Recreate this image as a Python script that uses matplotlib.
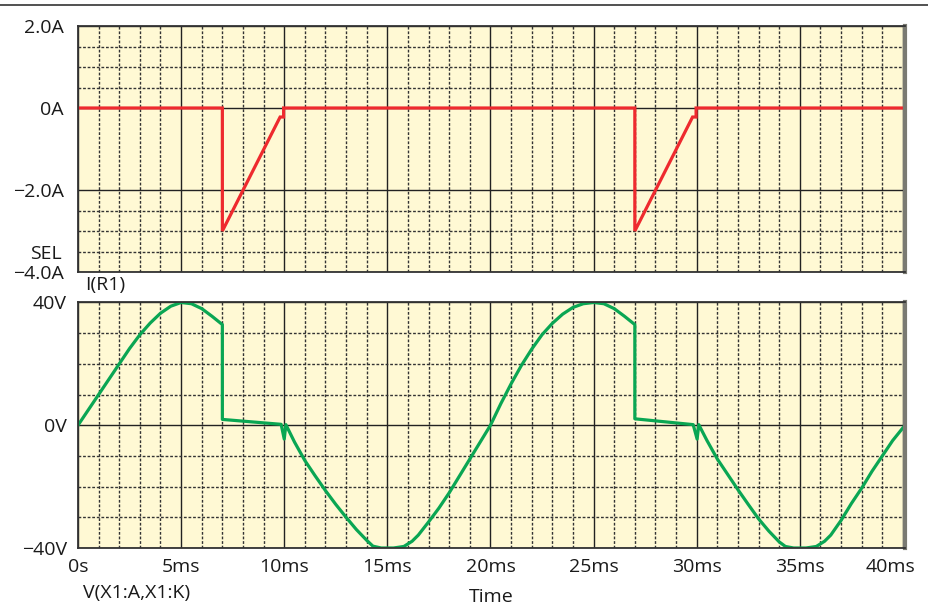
import matplotlib
matplotlib.use("Agg")
import matplotlib.pyplot as plt
from matplotlib.lines import Line2D

# Current through R1 (time in ms, current in A)
t_i = [0, 7.0, 7.0, 9.8, 9.97, 9.97, 27.0, 27.0, 29.8, 29.97, 29.97, 40.1]
i_r1 = [0, 0, -3.0, -0.22, -0.22, 0, 0, -3.0, -0.22, -0.22, 0, 0]

# Voltage across the diode X1 (time in ms, voltage in V)
t_v = [0, 0.5, 1, 1.5, 2, 2.5, 3, 3.5, 4, 4.5, 5, 5.5, 6, 6.5, 7.0,
       7.0, 9.85, 10.0, 10.08,
       10.5, 11, 11.5, 12, 12.5, 13, 13.5, 14, 14.3, 14.7, 15.3, 15.8, 16.2, 16.5,
       17, 17.5, 18, 18.5, 19, 19.5, 20,
       20.5, 21, 21.5, 22, 22.5, 23, 23.5, 24, 24.5, 25, 25.5, 26, 26.5, 27.0,
       27.0, 29.83, 30.02, 30.1,
       30.5, 31, 31.5, 32, 32.5, 33, 33.5, 34, 34.3, 34.7, 35.3, 35.8, 36.2, 36.5,
       37, 37.5, 38, 38.5, 39, 39.5, 40.1]
v_x1 = [0, 5.0, 10.0, 15.0, 20.0, 25.0, 29.5, 33.3, 36.5, 38.8, 40.0, 39.6, 38.0, 35.5, 32.8,
        1.9, 0.3, -4.5, 0.2,
        -5.5, -11.5, -16.5, -21.3, -25.8, -30.0, -34.0, -37.5, -39.4, -40.0, -40.0, -39.5, -37.8, -35.8,
        -31.5, -27.0, -22.0, -16.5, -11.0, -5.5, 0,
        7.0, 13.5, 19.5, 24.8, 29.5, 33.2, 36.2, 38.4, 39.6, 40.0, 39.6, 38.0, 35.5, 32.8,
        2.1, 0.2, -4.5, 0.2,
        -5.0, -11.0, -16.0, -21.0, -25.8, -30.5, -34.5, -38.0, -39.5, -40.0, -40.0, -39.5, -37.8, -35.8,
        -31.0, -25.5, -20.5, -15.0, -10.0, -5.0, 0]

x_major = [0, 5, 10, 15, 20, 25, 30, 35, 40]
x_labels = ["0s", "5ms", "10ms", "15ms", "20ms", "25ms", "30ms", "35ms", "40ms"]
x_minor = [m for m in range(41) if m % 5 != 0]

i_major = [2, 0, -2, -4]
i_labels = ["2.0A", "0A", "\u22122.0A", "\u22124.0A"]
i_minor = [1.5, 1.0, 0.5, -2.5, -3.0, -3.5]

v_major = [40, 0, -40]
v_labels = ["40V", "0V", "\u221240V"]
v_minor = [30, 20, 10, -10, -20, -30]

plt.rcParams['font.family'] = ['Open Sans', 'DejaVu Sans']
plt.rcParams['font.size'] = 14

W, H = 929, 608
fig = plt.figure(figsize=(W / 100, H / 100), dpi=100)

panel_bg = '#FFF9D4'
txt = '#1a1a1a'


def fx(px):
    return px / W


def fy(py):
    return 1 - py / H


def style_axes(ax, yticks, ylabels, yminor, ypad):
    ax.set_facecolor(panel_bg)
    ax.set_xlim(0, 40.1)
    ax.set_xticks(x_major)
    ax.set_xticks(x_minor, minor=True)
    ax.set_yticks(yticks)
    ax.set_yticklabels(ylabels, color=txt)
    ax.set_yticks(yminor, minor=True)
    ax.tick_params(which='both', length=0)
    ax.tick_params(axis='y', pad=ypad)
    ax.grid(which='major', color='#222222', linewidth=1.0, linestyle='-')
    ax.grid(which='minor', color='#333333', linewidth=1.0, linestyle=(0, (2, 1.3)))
    ax.set_axisbelow(True)
    for side in ['left', 'top', 'bottom']:
        ax.spines[side].set_color('#333333')
        ax.spines[side].set_linewidth(1.3)
    ax.spines['right'].set_color('#7a7a72')
    ax.spines['right'].set_linewidth(3.0)


# Top panel: current
ax1 = fig.add_axes([fx(78), fy(272), fx(905 - 78), (272 - 26) / H])
ax1.plot(t_i, i_r1, color='#EE2A2E', linewidth=2.3, solid_joinstyle='miter')
ax1.set_ylim(-4, 2)
style_axes(ax1, i_major, i_labels, i_minor, 10)
ax1.set_xticklabels([])

# Bottom panel: voltage
ax2 = fig.add_axes([fx(78), fy(548), fx(905 - 78), (548 - 302.5) / H])
ax2.plot(t_v, v_x1, color='#0AA653', linewidth=2.3)
ax2.set_ylim(-40, 40)
style_axes(ax2, v_major, v_labels, v_minor, 8)
# last time label is pulled in a little so it stays inside the page
ax2.set_xticklabels(x_labels[:-1] + [""], color=txt)
ax2.tick_params(axis='x', pad=7)
ax2.annotate(x_labels[-1], xy=(x_major[-1], 0), xycoords=('data', 'axes fraction'),
             xytext=(-9, -7), textcoords='offset points', ha='center', va='top', color=txt)

# Text labels around the panels
fig.text(fx(62), fy(254), "SEL", ha='right', va='center', color=txt)
fig.text(fx(85), fy(285), "I(R1)", ha='left', va='center', color=txt)
fig.text(fx(83), fy(593), "V(X1:A,X1:K)", ha='left', va='center', color=txt)
fig.text(fx(491), fy(597), "Time", ha='center', va='center', color=txt)

# Rule across the top of the page
fig.add_artist(Line2D([0, 1], [fy(5), fy(5)], transform=fig.transFigure,
                      color='#333333', linewidth=1.2))

fig.savefig("out.png", dpi=100)
